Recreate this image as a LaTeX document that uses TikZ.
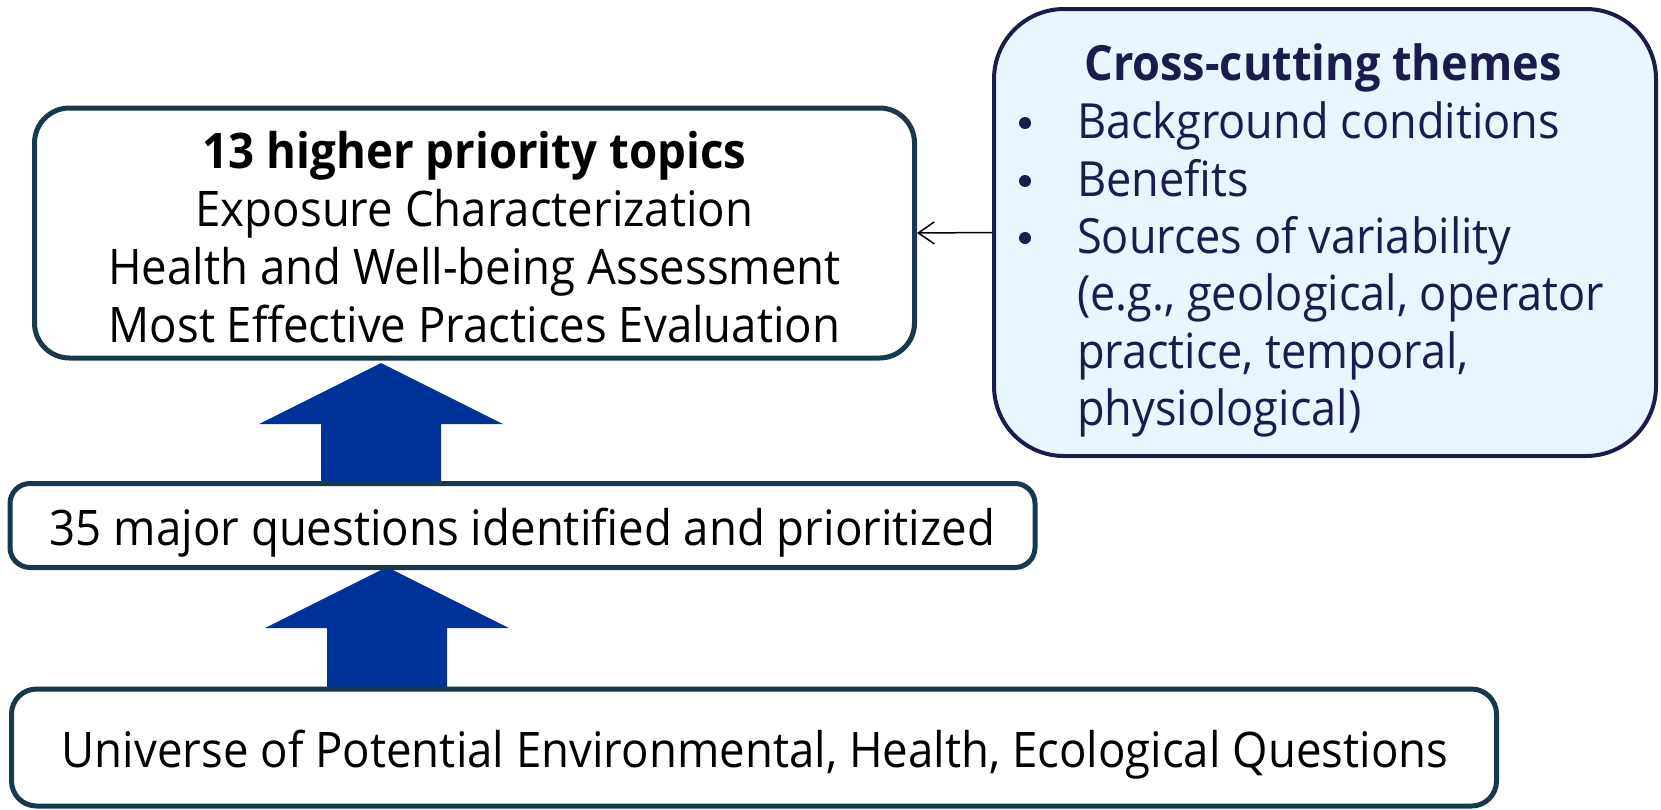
\documentclass[tikz,border=0pt]{standalone}
\usepackage{fontspec}
\setmainfont{Open Sans}[FakeStretch=0.93]
\usetikzlibrary{arrows.meta,calc}
\definecolor{boxline}{RGB}{24,56,76}
\definecolor{arrowblue}{RGB}{0,51,153}
\definecolor{navytxt}{RGB}{27,27,76}
\definecolor{paleblue}{RGB}{233,245,255}
\tikzset{
  stagebox/.style={draw=boxline, line width=5pt, fill=white, inner sep=0pt},
  crossbox/.style={draw=navytxt, line width=4pt, fill=paleblue, rounded corners=70pt, inner sep=0pt},
  maintext/.style={font=\fontsize{49}{58.5}\selectfont, text=black, inner sep=0pt, outer sep=0pt},
  crosstext/.style={font=\fontsize{48.5}{57.5}\selectfont, text=navytxt, inner sep=0pt, outer sep=0pt, anchor=base west},
  bulletmark/.style={circle, fill=navytxt, minimum size=12pt, inner sep=0pt, outer sep=0pt},
  blockarrow/.style={fill=arrowblue, draw=none},
  thinarrow/.style={draw=black, line width=1.5pt, -{Straight Barb[length=16pt,width=22pt]}}
}
\begin{document}
\begin{tikzpicture}[x=1pt,y=-1pt]
\useasboundingbox (0,0) rectangle (1661,809);

% block arrows
\fill[blockarrow] (381,363) -- (503,424) -- (441,424) -- (441,482) -- (321,482) -- (321,424) -- (259,424) -- cycle;
\fill[blockarrow] (387,567) -- (509,628) -- (447,628) -- (447,689) -- (327,689) -- (327,628) -- (265,628) -- cycle;

% boxes
\node[stagebox, rounded corners=35pt, minimum width=880pt, minimum height=250pt] (top) at (474.5,233) {};
\node[stagebox, rounded corners=20pt, minimum width=1025pt, minimum height=84pt] (mid) at (522.5,525.5) {};
\node[stagebox, rounded corners=25pt, minimum width=1485pt, minimum height=117pt] (bot) at (754,747.5) {};
\node[crossbox, minimum width=662pt, minimum height=447pt] (cross) at (1325,232.5) {};

% texts in stage boxes
\node[maintext, anchor=base] (toptitle) at (474.5,168) {\bfseries 13 higher priority topics};
\node[maintext, anchor=base] (topl1) at (474.5,226.5) {Exposure Characterization};
\node[maintext, anchor=base] (topl2) at (474.5,284) {Health and Well-being Assessment};
\node[maintext, anchor=base] (topl3) at (474.5,342) {Most Effective Practices Evaluation};
\node[maintext, anchor=base] (midtext) at (522.5,545) {35 major questions identified and prioritized};
\node[maintext, anchor=base] (bottext) at (755,767) {Universe of Potential Environmental, Health, Ecological Questions};

% cross-cutting themes text
\node[crosstext, anchor=base] (crosstitle) at (1323,80) {\bfseries Cross-cutting themes};
\node[bulletmark] (bu1) at (1025,123) {};
\node[crosstext] (it1) at (1077,138) {Background conditions};
\node[bulletmark] (bu2) at (1025,181) {};
\node[crosstext] (it2) at (1077,196) {Benefits};
\node[bulletmark] (bu3) at (1025,238) {};
\node[crosstext] (it3a) at (1077,253) {Sources of variability};
\node[crosstext] (it3b) at (1077,310.5) {(e.g., geological, operator};
\node[crosstext] (it3c) at (1077,368) {practice, temporal,};
\node[crosstext] (it3d) at (1077,425) {physiological)};

% connector
\draw[thinarrow] (cross.west) -- (top.east);
\end{tikzpicture}
\end{document}
